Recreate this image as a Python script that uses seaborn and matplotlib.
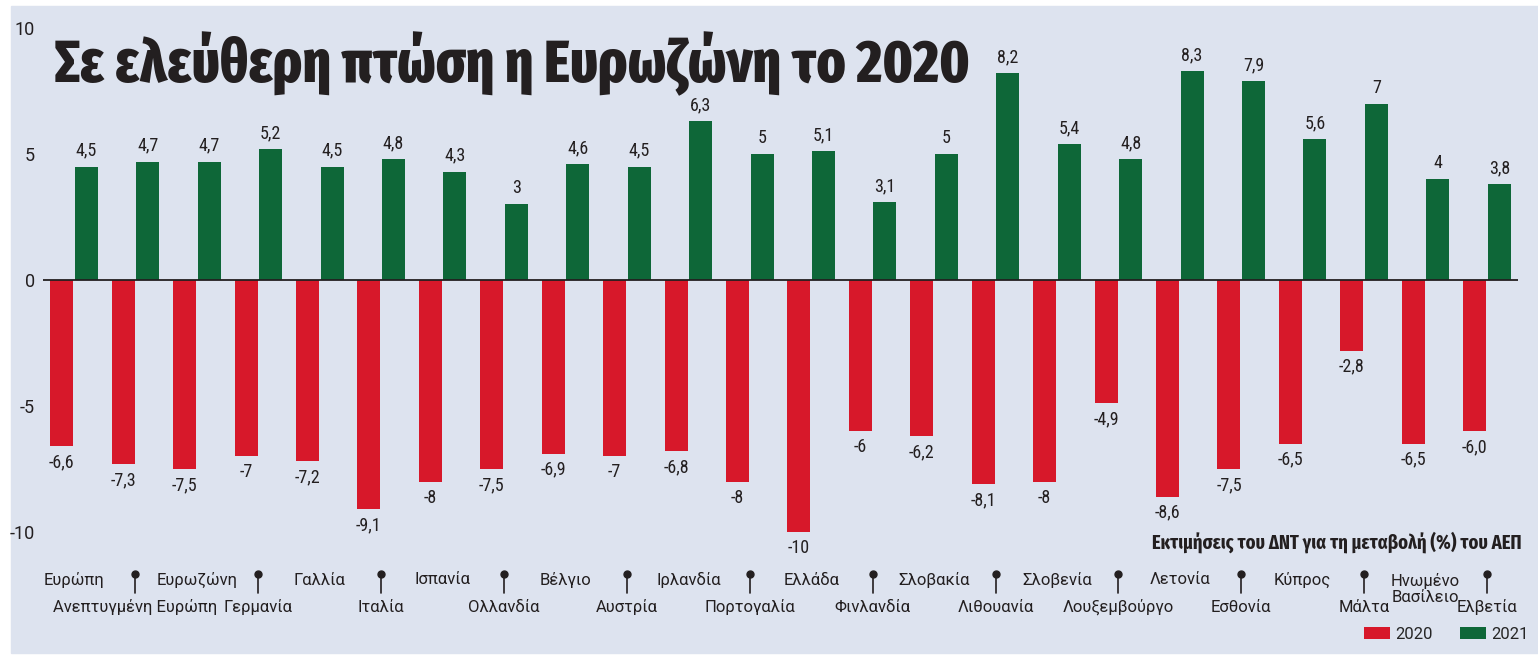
import matplotlib
matplotlib.use('Agg')
import matplotlib.pyplot as plt
import matplotlib.patches as mpatches
import seaborn as sns
import pandas as pd

# countries, in the order of the chart
countries = ['Ευρώπη', 'Ανεπτυγμένη Ευρώπη', 'Ευρωζώνη', 'Γερμανία', 'Γαλλία',
             'Ιταλία', 'Ισπανία', 'Ολλανδία', 'Βέλγιο', 'Αυστρία', 'Ιρλανδία',
             'Πορτογαλία', 'Ελλάδα', 'Φινλανδία', 'Σλοβακία', 'Λιθουανία',
             'Σλοβενία', 'Λουξεμβούργο', 'Λετονία', 'Εσθονία', 'Κύπρος', 'Μάλτα',
             'Ηνωμένο\nΒασίλειο', 'Ελβετία']

# labels as printed on the chart (greek decimal comma)
labels_2020 = ['-6,6', '-7,3', '-7,5', '-7', '-7,2', '-9,1', '-8', '-7,5', '-6,9',
               '-7', '-6,8', '-8', '-10', '-6', '-6,2', '-8,1', '-8', '-4,9',
               '-8,6', '-7,5', '-6,5', '-2,8', '-6,5', '-6,0']
labels_2021 = ['4,5', '4,7', '4,7', '5,2', '4,5', '4,8', '4,3', '3', '4,6', '4,5',
               '6,3', '5', '5,1', '3,1', '5', '8,2', '5,4', '4,8', '8,3', '7,9',
               '5,6', '7', '4', '3,8']
years = ['2020', '2021']

gdp_2020 = [float(s.replace(',', '.')) for s in labels_2020]
gdp_2021 = [float(s.replace(',', '.')) for s in labels_2021]

df = pd.DataFrame({
    'country': countries * 2,
    'value': gdp_2020 + gdp_2021,
    'year': [years[0]] * len(countries) + [years[1]] * len(countries),
})

RED = '#d7182a'
GREEN = '#0e6738'
BG = '#dde3ef'
INK = '#231f20'
W, H = 1538, 655


def fx(px):
    return px / W


def fy(py):
    return 1 - py / H


sns.set_style('white')
plt.rcParams['font.family'] = ['Roboto Condensed', 'DejaVu Sans']
LABEL_FONT = ['Roboto', 'DejaVu Sans']

fig = plt.figure(figsize=(W / 100, H / 100), dpi=100, facecolor='white')
fig.patches.append(mpatches.Rectangle((fx(11), fy(653)), 1 - fx(11), fy(6) - fy(653),
                                      transform=fig.transFigure, color=BG, zorder=-5))

ax = fig.add_axes([fx(43.3), fy(532), fx(1517.7) - fx(43.3), fy(28) - fy(532)])
ax.set_facecolor('none')

sns.barplot(data=df, x='country', y='value', hue='year', hue_order=years,
            palette={'2020': RED, '2021': GREEN}, width=0.8, gap=0.065,
            saturation=1, linewidth=0, ax=ax, zorder=2)

ax.set_xlim(-0.5, len(countries) - 0.5)
ax.set_ylim(-10, 10)
ax.axhline(0, color=INK, lw=1.3, zorder=3)

ax.bar_label(ax.containers[0], labels=labels_2020, padding=5, fontsize=13, color=INK)
ax.bar_label(ax.containers[1], labels=labels_2021, padding=5, fontsize=13, color=INK)

ax.set_yticks([-10, -5, 0, 5, 10])
ax.set_yticklabels(['-10', '-5', '0', '5', '10'], fontsize=13, color=INK,
                   family=LABEL_FONT)
ax.tick_params(axis='y', length=0, pad=6)
ax.set_xticks([])
ax.set_xlabel('')
ax.set_ylabel('')
sns.despine(ax=ax, left=True, bottom=True)

# category names in two staggered rows, pins mark the lower row
xt = ax.get_xaxis_transform()
h_px = 532 - 28


def ay(py):
    return -(py - 532) / h_px


for i, name in enumerate(countries):
    if i % 2 == 0:
        if '\n' in name:
            ax.text(i, ay(573), name, transform=xt, ha='center', va='top',
                    fontsize=12, color=INK, linespacing=1.1, family=LABEL_FONT)
        else:
            ax.text(i, ay(580), name, transform=xt, ha='center', va='center',
                    fontsize=12, color=INK, family=LABEL_FONT)
    else:
        ax.text(i, ay(607), name, transform=xt, ha='center', va='center',
                fontsize=12, color=INK, family=LABEL_FONT)
        ax.plot([i, i], [ay(574), ay(593)], transform=xt, color=INK, lw=1.2,
                clip_on=False)
        ax.plot([i], [ay(574)], transform=xt, marker='o', ms=5, color=INK,
                clip_on=False)

sns.move_legend(ax, 'lower right', bbox_to_anchor=(fx(1542), fy(655)),
                bbox_transform=fig.transFigure, ncol=2, frameon=False, title=None,
                prop={'family': LABEL_FONT, 'size': 12}, handlelength=1.6,
                handleheight=0.7, columnspacing=1.6, handletextpad=0.3,
                borderpad=0.3)

fig.text(fx(55), fy(82), 'Σε ελεύθερη πτώση η Ευρωζώνη το 2020', fontsize=43,
         fontweight=800, family=['Fira Sans Extra Condensed', 'DejaVu Sans'],
         color=INK, va='baseline', ha='left')
fig.text(fx(1522), fy(542), 'Εκτιμήσεις του ΔΝΤ για τη μεταβολή (%) του ΑΕΠ',
         fontsize=14.5, fontweight=700,
         family=['Fira Sans Extra Condensed', 'DejaVu Sans'],
         color=INK, va='center', ha='right')

fig.savefig('out.png', dpi=100, facecolor='white')
